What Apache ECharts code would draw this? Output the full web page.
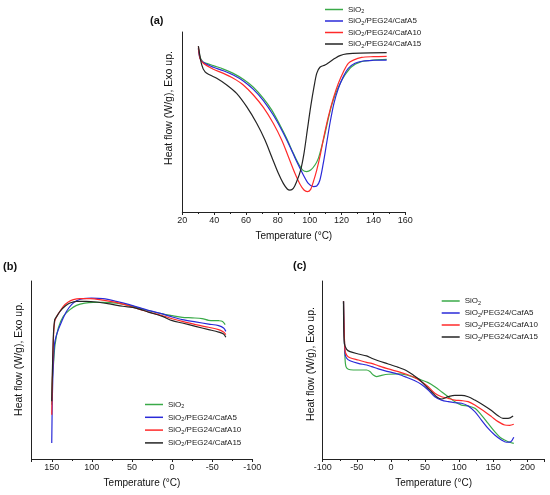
<!DOCTYPE html>
<html><head><meta charset="utf-8">
<script src="https://cdn.jsdelivr.net/npm/echarts@6/dist/echarts.min.js"></script>
<style>html,body{margin:0;padding:0;background:#fff}#c{width:550px;height:495px}</style>
</head><body><div id="c"></div>
<script>
// Series names and colours
const names = ['SiO2', 'SiO2/PEG24/CafA5', 'SiO2/PEG24/CafA10', 'SiO2/PEG24/CafA15'];
const colors = ['#3aaa48', '#2a2ad8', '#ff2a2a', '#252525'];

// Panel (a): temperature (°C) vs heat flow (arbitrary units, axis 0..100)
const aSiO2 = [[30.1,90.9],[31.1,86.3],[32.8,83.5],[35.3,82.6],[39.5,81.3],[45.8,79.4],[52.0,77.0],[58.3,73.7],[64.6,69.3],[70.9,63.1],[76.1,56.7],[81.3,48.3],[85.5,40.9],[89.7,32.6],[92.8,27.0],[95.6,23.3],[98.1,22.4],[100.6,23.3],[103.3,26.1],[105.4,29.8],[107.5,36.3],[109.6,43.7],[111.7,52.0],[113.8,59.4],[115.9,65.0],[118.6,70.6],[122.1,76.1],[126.3,80.7],[131.6,83.3],[139.9,84.4],[148.3,84.8]];
const aCafA5 = [[30.1,90.9],[31.1,85.4],[33.2,83.0],[39.5,80.4],[45.8,78.5],[52.0,76.1],[58.3,72.8],[64.6,68.1],[70.9,61.9],[77.1,53.9],[82.4,45.6],[87.6,36.3],[91.8,28.0],[96.0,20.6],[99.1,15.9],[102.3,14.1],[104.4,14.4],[106.4,17.8],[108.5,27.0],[110.6,38.1],[112.7,49.3],[115.2,60.4],[118.0,68.7],[121.1,75.2],[124.2,79.8],[128.4,82.6],[133.6,83.9],[139.9,84.3],[148.3,84.4]];
const aCafA10 = [[30.1,91.9],[31.1,85.4],[33.2,82.6],[39.5,79.3],[45.8,77.0],[52.0,74.3],[58.3,70.6],[64.6,65.0],[70.9,58.1],[77.1,49.3],[82.4,40.0],[86.6,30.7],[90.7,21.5],[93.9,15.4],[96.4,12.2],[98.5,11.3],[100.6,12.6],[102.3,16.9],[104.4,23.3],[106.4,30.7],[108.9,41.9],[111.7,53.0],[114.8,63.1],[118.0,71.5],[121.1,77.8],[124.2,82.6],[127.4,84.4],[132.6,85.9],[139.9,86.3],[148.3,86.5]];
const aCafA15 = [[30.1,92.2],[32.2,81.7],[34.3,77.8],[37.4,76.1],[41.6,74.3],[47.9,70.6],[54.1,65.9],[60.4,58.5],[66.7,49.3],[71.9,40.0],[76.1,30.7],[80.3,21.5],[83.4,15.9],[85.9,12.8],[87.6,12.2],[89.7,13.1],[91.8,16.9],[94.3,23.3],[96.4,32.6],[98.5,45.6],[100.6,58.5],[102.7,69.6],[104.4,77.0],[106.4,80.4],[109.6,81.7],[112.7,83.5],[115.9,85.4],[119.0,86.9],[123.2,87.8],[131.6,88.3],[148.3,88.5]];

// Panel (b)
const bSiO2 = [[150,30.5],[149.2,45.0],[147.9,53.0],[145.9,64.2],[141.8,73.6],[135.6,80.1],[127.3,83.9],[119.1,86.3],[108.8,87.6],[98.5,88.0],[86.2,88.0],[69.7,87.6],[53.2,86.3],[32.6,83.7],[12.0,81.5],[-0.3,80.5],[-12.7,79.6],[-25.0,79.3],[-37.4,78.9],[-45.6,77.9],[-58.0,77.7],[-62.9,77.3],[-66.2,75.5]];
const bCafA5 = [[150,9.0],[149.2,36.1],[147.9,54.9],[146.7,64.2],[144.6,68.9],[141.8,72.7],[137.6,77.3],[131.5,83.0],[125.3,86.7],[119.1,88.9],[110.9,90.1],[100.6,90.4],[86.2,90.1],[69.7,88.6],[53.2,86.7],[32.6,83.9],[12.0,81.5],[-0.3,79.8],[-12.7,78.3],[-29.2,77.0],[-45.6,75.8],[-58.0,74.9],[-64.2,73.6],[-67.0,71.7]];
const bCafA10 = [[150,24.9],[149.2,45.5],[147.9,68.0],[146.3,77.3],[143.8,80.1],[139.7,83.0],[135.6,85.8],[129.4,88.2],[123.2,89.5],[115.0,90.1],[102.6,90.1],[86.2,89.3],[69.7,88.0],[53.2,85.9],[32.6,83.0],[12.0,80.5],[-0.3,78.8],[-12.7,77.3],[-29.2,75.5],[-45.6,74.0],[-58.0,72.7],[-64.2,71.3],[-67.0,69.9]];
const bCafA15 = [[150,32.4],[149.2,49.3],[147.9,69.9],[146.3,78.3],[143.8,80.1],[139.7,83.0],[133.5,85.8],[127.3,87.6],[119.1,88.6],[106.8,88.6],[94.4,88.2],[77.9,87.1],[61.4,85.8],[45.0,84.8],[28.5,82.4],[12.0,80.1],[-0.3,77.7],[-12.7,76.4],[-29.2,74.5],[-45.6,72.7],[-58.0,71.3],[-64.2,70.2],[-67.0,68.4]];

// Panel (c)
const cSiO2 = [[-69.5,88.6],[-67.4,57.5],[-65.9,51.9],[-62.5,50.4],[-55.2,50.0],[-45.4,50.0],[-35.7,50.0],[-30.8,49.1],[-25.9,47.2],[-21.0,46.3],[-13.7,47.0],[-4.0,47.6],[10.7,47.8],[22.9,47.2],[35.1,45.7],[44.8,44.4],[54.6,42.9],[64.3,40.6],[74.1,37.8],[83.9,35.0],[93.6,32.2],[103.4,30.3],[113.1,29.8],[122.9,28.5],[132.6,24.7],[142.4,20.0],[152.1,15.4],[161.9,11.6],[171.7,9.7],[180.0,8.8]];
const cCafA5 = [[-69.5,88.6],[-67.4,59.4],[-64.9,56.6],[-60.0,55.2],[-47.9,53.7],[-35.7,52.8],[-28.3,51.9],[-18.6,50.6],[-4.0,49.1],[10.7,47.6],[22.9,45.9],[35.1,44.0],[44.8,41.9],[54.6,38.8],[64.3,35.0],[74.1,33.1],[83.9,32.2],[93.6,31.6],[103.4,31.3],[113.1,29.8],[122.9,26.6],[132.6,21.9],[142.4,17.2],[152.1,13.5],[161.9,10.7],[169.2,9.4],[175.6,9.7],[180.0,12.2]];
const cCafA10 = [[-69.5,88.6],[-67.4,61.2],[-64.9,58.4],[-60.0,56.9],[-47.9,55.6],[-35.7,54.3],[-28.3,53.7],[-18.6,52.4],[-4.0,50.6],[10.7,49.1],[22.9,47.6],[35.1,45.7],[44.8,43.4],[54.6,40.6],[64.3,36.9],[74.1,35.0],[83.9,34.1],[93.6,33.1],[103.4,32.8],[113.1,32.2],[122.9,30.3],[135.1,27.2],[147.3,23.8],[157.0,21.0],[166.8,19.1],[174.1,18.9],[180.0,19.5]];
const cCafA15 = [[-69.5,88.6],[-68.3,65.0],[-64.9,61.6],[-60.0,60.3],[-47.9,59.0],[-35.7,57.9],[-28.3,56.6],[-18.6,55.2],[-4.0,53.4],[10.7,51.5],[22.9,49.6],[32.6,47.2],[42.4,44.4],[52.1,40.6],[59.5,37.8],[66.8,35.0],[74.1,33.7],[83.9,35.0],[93.6,35.8],[103.4,35.8],[113.1,35.0],[122.9,33.1],[135.1,30.3],[147.3,27.2],[157.0,24.3],[164.3,22.8],[171.7,22.8],[179.0,24.2]];

// Axis ranges
const aX = {min: 20, max: 160, interval: 20};
const bX = {min: -100, max: 175, interval: 50};
const cX = {min: -100, max: 225, interval: 50};

const FONT = 'Liberation Sans, Arial, sans-serif';
const xName = 'Temperature (°C)';
const yName = 'Heat flow (W/g), Exo up.';

const chart = echarts.init(document.getElementById('c'), null, {renderer: 'canvas'});

function xAxis(idx, r, inverse) {
  return {
    type: 'value', gridIndex: idx, min: r.min, max: r.max, interval: r.interval, inverse: !!inverse,
    name: xName, nameLocation: 'middle', nameGap: 19,
    nameTextStyle: {fontFamily: FONT, fontSize: 10, color: '#111'},
    axisLine: {show: true, onZero: false, lineStyle: {color: '#222', width: 1}},
    axisTick: {show: true, inside: false, length: 3, lineStyle: {color: '#222'}},
    minorTick: {show: true, splitNumber: 2, length: 2, lineStyle: {color: '#222'}},
    splitLine: {show: false},
    axisLabel: {fontFamily: FONT, fontSize: 9, color: '#222', margin: 4.5, showMaxLabel: idx === 0, hideOverlap: false}
  };
}
function yAxis(idx, gap, shift) {
  return {
    type: 'value', gridIndex: idx, min: 0, max: 100,
    name: yName, nameLocation: 'middle', nameGap: gap,
    nameTextStyle: {fontFamily: FONT, fontSize: 10.5, color: '#111', padding: [0, 0, 0, shift]},
    axisLine: {show: true, onZero: false, lineStyle: {color: '#222', width: 1}},
    axisTick: {show: false}, axisLabel: {show: false}, splitLine: {show: false}
  };
}
function legend(left, top, gap) {
  return {
    left: left, top: top, orient: 'vertical', selectedMode: false, padding: 0,
    icon: 'rect', itemWidth: 18, itemHeight: 1.5, itemGap: gap,
    data: names,
    formatter: n => '{t|SiO}{s|2}' + (n.length > 4 ? '{t|' + n.slice(4) + '}' : ''),
    textStyle: {fontFamily: FONT, fontSize: 8, color: '#222', rich: {
      t: {fontFamily: FONT, fontSize: 8, color: '#222', lineHeight: 10},
      s: {fontFamily: FONT, fontSize: 5.5, color: '#222', lineHeight: 10, verticalAlign: 'bottom', padding: [3, 0, 0, 0]}
    }}
  };
}
const panels = [[aSiO2, aCafA5, aCafA10, aCafA15], [bSiO2, bCafA5, bCafA10, bCafA15], [cSiO2, cCafA5, cCafA10, cCafA15]];
const series = [];
panels.forEach((p, gi) => p.forEach((d, si) => series.push({
  type: 'line', name: names[si], xAxisIndex: gi, yAxisIndex: gi, data: d,
  showSymbol: false, symbol: 'none', smooth: 0.3,
  lineStyle: {color: colors[si], width: 1.2}, itemStyle: {color: colors[si]}, z: 2 + si
})));

chart.setOption({
  animation: false,
  color: colors,
  grid: [
    {left: 182.3, top: 32, width: 223, height: 180},
    {left: 31.7, top: 281, width: 220.6, height: 178},
    {left: 322.7, top: 281, width: 221.8, height: 178}
  ],
  xAxis: [xAxis(0, aX, false), xAxis(1, bX, true), xAxis(2, cX, false)],
  yAxis: [yAxis(0, 7.5, 28), yAxis(1, 7, 22), yAxis(2, 6.5, 12)],
  legend: [legend(325, 5.5, 2.5), legend(145, 400.5, 3.8), legend(441.7, 297, 3)],
  graphic: [
    {type: 'text', left: 150, top: 15, style: {text: '(a)', font: 'bold 11px ' + FONT, fill: '#111'}},
    {type: 'text', left: 3, top: 261, style: {text: '(b)', font: 'bold 11px ' + FONT, fill: '#111'}},
    {type: 'text', left: 293, top: 260, style: {text: '(c)', font: 'bold 11px ' + FONT, fill: '#111'}}
  ],
  series: series
});
</script></body></html>
